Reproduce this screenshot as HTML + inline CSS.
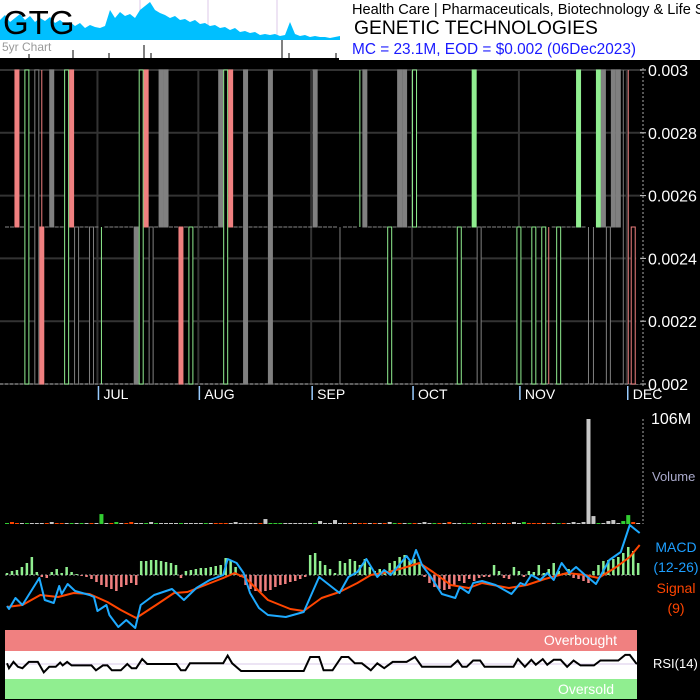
<!DOCTYPE html>
<html><head><meta charset="utf-8"><style>
html,body{margin:0;padding:0;background:#000;}
#wrap{position:relative;width:700px;height:700px;overflow:hidden;background:#000;font-family:"Liberation Sans",sans-serif;}
svg{position:absolute;left:0;top:0;}
</style></head><body>
<div id="wrap">
<svg id="c" width="700" height="700" xmlns="http://www.w3.org/2000/svg">
<rect x="0" y="0" width="700" height="60" fill="#fff"/>
<g id="fiveyr"></g>
<text x="3" y="34" font-size="33" fill="#000" font-family="Liberation Sans">GTG</text>
<text x="2" y="51" font-size="12" fill="#999" font-family="Liberation Sans">5yr Chart</text>
<text x="352" y="14" font-size="14.6" fill="#000" font-family="Liberation Sans">Health Care | Pharmaceuticals, Biotechnology &amp; Life Sciences</text>
<text x="354" y="34" font-size="19.3" fill="#000" font-family="Liberation Sans">GENETIC TECHNOLOGIES</text>
<text x="352" y="54" font-size="15.4" fill="#1a1aff" font-family="Liberation Sans">MC = 23.1M, EOD = $0.002 (06Dec2023)</text>
<g id="price"></g>
<g id="vol"></g>
<g id="macd"></g>
<g id="rsi"></g>
</svg>
</div>
<script>
// ---- data ----
const fiveYrVals = [20,25,18,22,26,20,24,18,22,19,23,17,20,16,18,14,17,12,15,13,12,14,30,22,28,24,26,22,30,34,38,30,27,25,22,24,20,21,18,20,16,17,14,15,12,13,10,12,8,9,7,8,5,6,5,6,4,5,18,6,4,5,3,4,3,3,2,3,4];
const priceTicks = [0.003,0.0028,0.0026,0.0024,0.0022,0.002];
const priceTickLabels = ["0.003","0.0028","0.0026","0.0024","0.0022","0.002"];
const monthLabels = ["JUL","AUG","SEP","OCT","NOV","DEC"];
const monthStartDays = [18.2,38.5,61.2,81.5,103,124.7];
const nDays = 128;
const candleDays = [2,4,6,7,9,12,13,14,17,19,26,27,28,29,31,32,35,37,43,44,45,48,53,62,67,71,72,77,79,80,82,91,94,95,103,106,108,109,111,115,117,118,119,120,121,122,123,124,125,126,127];
const opens  = [.003,.002,.002,.0025,.003,.002,.003,.002,.002,.0025,.0025,.002,.003,.002,.003,.003,.0025,.002,.003,.002,.003,.003,.003,.003,.0025,.0025,.003,.002,.003,.003,.0025,.002,.003,.002,.002,.002,.002,.0025,.002,.003,.0025,.0025,.003,.003,.002,.003,.003,.0025,.0025,.002,.002];
const closes = [.0025,.003,.003,.002,.0025,.003,.0025,.0025,.0025,.0025,.002,.003,.0025,.0025,.0025,.0025,.002,.0025,.0025,.003,.0025,.002,.002,.0025,.0025,.0025,.0025,.0025,.0025,.0025,.003,.0025,.0025,.0025,.0025,.0025,.0025,.0025,.0025,.0025,.0025,.0025,.0025,.0025,.0025,.0025,.0025,.0025,.0025,.0025,.0025];
const highs  = [.003,.003,.003,.003,.003,.003,.003,.0025,.0025,.0025,.0025,.003,.003,.0025,.003,.003,.0025,.0025,.003,.003,.003,.003,.003,.003,.0025,.003,.003,.0025,.003,.003,.003,.0025,.003,.0025,.0025,.0025,.0025,.0025,.0025,.003,.0025,.0025,.003,.003,.0025,.003,.003,.003,.003,.0025,.0025];
const lows   = [.0025,.002,.002,.002,.0025,.002,.0025,.002,.002,.002,.002,.002,.0025,.002,.0025,.0025,.002,.002,.0025,.002,.0025,.002,.002,.0025,.002,.0025,.0025,.002,.0025,.0025,.0025,.002,.0025,.002,.002,.002,.002,.002,.002,.0025,.002,.002,.0025,.0025,.002,.0025,.0025,.002,.002,.002,.002];
const candleKinds = "rgnrngrnngngrnnnrgngrnnnngngnngggngggrggnngnnnnnrr";
const volumes = [1,2,1,0.6,1,1,1,1,1,2,1,1,1,1,0,1,
 1,1,1,10,1,1,2,1,1,2,1,1,1,2,0,0,
 1,0,0,1,1,0,0,0,1,1,1,1,1,1,2,0,
 0,0,0,1,5,1,1,1,0,0,0,0,0,0,1,3,
 0,0,4,1,1,1,1,1,0,1,1,0,1,2,1,0,
 1,1,1,1,2,1,1,1,1,2,0,1,0,1,1,1,
 1,0,1,1,1,1,2,1,2,1,1,1,1,1,0,1,
 1,1,2,1,2,106,8,1,1,3,4,1,3,9,2,1];
const volColors = "grrwgwwwrwrrwgwg"+"wrwgwrgwrrwwgwgw"+"wwwgwwwwgwrrrwww"+"wwwrwgggwwwwwwgw"+"wwwwwrwrrwrwrwgr"+"wgrwwwgrwrwwggrw"+"grwrwrwwgrrrwrwg"+"rwwwwwwgwwwwggrw";
const macdDays = [0,0.4,1.7,3.1,6.5,7.6,9.4,10.5,11,12.2,13.7,16.6,17.5,18.2,20,20.6,22.4,24,25.8,26.9,29.6,33.2,35.6,38.1,40.8,43.5,44.4,46.2,47.6,48.9,50.7,52.5,56.1,59.7,62.8,66.9,68.7,70.5,72.3,74.5,75.9,77.2,80.4,81.4,82.3,83.5,85.3,87.5,90.2,91.1,92.9,93.8,95.6,98.3,101.5,103.3,104.2,105.5,107.3,108.7,110,111.6,113.1,114.5,116.3,118.5,121.2,123.5,125.3,127.3];
const macdVals = [-31,-34,-23,-30,-3,-25,-28,-11,-19,-9,-16,-20,-22,-36,-30,-40,-52,-45,-53,-30,-20,-14,-25,-13,-5,0,16,12,2,-18,-33,-40,-42,-37,-2,-18,-2,3,16,-2,5,0,19,12,25,10,-2,-19,-23,-12,-18,-8,-6,-10,-19,-8,-10,0,-5,2,-5,12,2,8,0,-9,15,23,50,42];
const signalDays = [0,3.1,6.7,10.3,13.4,16.6,20.2,22.9,26,30,33.6,36.3,39.9,43.5,45.8,48,52.5,57,59.7,63.3,66.9,70.5,73.2,76.8,80.4,83,85.7,89.3,92.9,95.6,101,104.6,108.2,112.7,116.3,119,122.6,125.3,127.3];
const signalVals = [-32,-30,-20,-22,-18,-19,-27,-35,-43,-30,-18,-17,-10,-3,2,-3,-25,-34,-36,-23,-17,-8,0,3,8,12,3,-10,-13,-8,-13,-10,-4,2,0,-3,8,18,30];
const histVals = [2,4,5,8,12,18,3,-2,-3,3,6,2,8,3,
 1,-1,-2,-4,-7,-10,-12,-14,-16,-12,-10,-8,-10,
 14,14,15,15,14,13,12,10,-3,4,5,6,7,7,8,9,10,17,14,8,
 -2,-10,-14,-16,-17,-16,-15,-12,-10,-9,-7,-6,-4,-2,
 20,22,14,10,6,2,14,12,16,14,10,16,8,4,6,4,12,14,18,20,14,16,12,
 -2,-8,-12,-14,-15,-14,-10,-6,-8,-4,-6,-3,-2,-2,
 10,4,-3,-4,8,4,-2,4,3,10,2,6,12,4,2,6,-3,-4,-6,-8,4,10,14,15,16,18,22,28,24,12];
const rsiDays = [0,0.4,1.3,2.2,3.1,4.4,6.2,7.4,8.5,9.8,10.7,11.2,12.1,13,17,17.9,19.3,20.2,21.1,22.9,24.2,25.1,26,27.2,28.2,34.1,35,35.9,36.8,43.5,44.4,45.3,47.1,59.7,61,62.8,63.7,65.5,67.3,68.7,70,71.4,73.2,74.5,75.9,77.6,80.4,82.1,83.5,89.3,90.7,91.6,92.5,93.8,95.2,96.1,101.9,102.8,104.2,105.5,106.4,107.8,108.7,110,111.4,112.7,114,115.4,118.1,119.4,123,124.4,125.3,126.6,127.3];
const rsiVals = [51,44,53,46,44,53,53,38,46,46,52,48,53,48,48,41,48,48,41,41,50,44,44,57,50,50,41,41,51,51,62,51,40,40,60,60,41,41,60,60,51,51,41,51,44,53,53,60,46,46,55,46,46,55,55,46,46,57,46,56,49,57,49,56,56,46,55,48,48,55,55,63,63,51,50];

// ---- scales ----
const xd = d => 7 + d*4.97;
const yp = p => 70 + (0.003-p)/0.001*314;
const yv = v => 524 - v/106*105;
const ym = v => 575 - v;
const yr = r => 664 - (r-50)*0.7;
const NS = "http://www.w3.org/2000/svg";
function mk(parent, tag, attrs, text){
  const e = document.createElementNS(NS, tag);
  for (const k in attrs) e.setAttribute(k, attrs[k]);
  if (text !== undefined) e.textContent = text;
  parent.appendChild(e);
  return e;
}
const colorOf = {g:"#90ee90", r:"#f08080", n:"#808080", w:"#c8c8c8"};

// ---- 5yr mini chart ----
const fy = document.getElementById('fiveyr');
[140,208,277].forEach(x=>{
  const l = mk(fy,'line',{x1:x,y1:0,x2:x,y2:40,stroke:'#ddc8e8','stroke-width':1});
  
  
});
let fp = "M0,40";
fiveYrVals.forEach((v,i)=>{ fp += " L"+(i*5)+","+(40-v); });
fp += " L340,40 Z";
const fa = mk(fy,'path',{d:fp,fill:'#00bfff'});


const fb = mk(fy,'rect',{x:0,y:58,width:339,height:2,fill:'#000'});


[[29,54],[73,50],[109,53],[144,45],[151,53],[282,40],[289,53],[336,53]].forEach(s=>{
  const l = mk(fy,'line',{x1:s[0],y1:s[1],x2:s[0],y2:58,stroke:'#000','stroke-width':1});
  
  
});

// ---- price panel ----
const pg = document.getElementById('price');
priceTicks.forEach((p,i)=>{
  const gl = mk(pg,'line',{x1:0,y1:yp(p),x2:642,y2:yp(p),stroke:'#333',"stroke-width":2});
  
  
  const tk = mk(pg,'line',{x1:640,y1:yp(p),x2:646,y2:yp(p),stroke:'#ccc'});
  
  
  const t = mk(pg,'text',{x:648,y:yp(p)+6,fill:'#fff','font-size':16,'font-family':'Liberation Sans'},priceTickLabels[i]);
  
  
});
monthStartDays.forEach((d,i)=>{
  const gl = mk(pg,'line',{x1:xd(d),y1:70,x2:xd(d),y2:384,stroke:'#333',"stroke-width":2});
  
  
  const bar = mk(pg,'line',{x1:xd(d)+1,y1:386,x2:xd(d)+1,y2:400,stroke:'#9cf','stroke-width':1.5});
  
  
  const t = mk(pg,'text',{x:xd(d)+6,y:399,fill:'#fff','font-size':14,'font-family':'Liberation Sans'},monthLabels[i]);
  
  
});
const pax = mk(pg,'line',{x1:643,y1:68,x2:643,y2:386,stroke:'#aaa','stroke-dasharray':'2,2'});


const pbase = mk(pg,'line',{x1:0,y1:384,x2:642,y2:384,stroke:'#888','stroke-dasharray':'3,2'});


for (let d=0; d<nDays; d++){
  if (candleDays.indexOf(d) >= 0) continue;
  const fl = mk(pg,'line',{x1:xd(d)-2,y1:yp(0.0025),x2:xd(d)+2,y2:yp(0.0025),stroke:'#888','stroke-width':1});
  
  
}
candleDays.forEach((d,i)=>{
  const col = colorOf[candleKinds[i]];
  const x = xd(d);
  const wk = mk(pg,'line',{x1:x,y1:yp(highs[i]),x2:x,y2:yp(lows[i]),stroke:col,'stroke-width':1});
  
  
  const top = yp(Math.max(opens[i],closes[i])), bot = yp(Math.min(opens[i],closes[i]));
  if (bot - top > 0.5){
    const hollow = closes[i] > opens[i];
    const r = mk(pg,'rect',{x:x-2,y:top,width:4,height:bot-top,fill:hollow?'#000':col,stroke:col,'stroke-width':1});
    
    
  }
});

// ---- volume panel ----
const vg = document.getElementById('vol');
const vax = mk(vg,'line',{x1:643,y1:419,x2:643,y2:524,stroke:'#aaa','stroke-dasharray':'2,2'});


const vt = mk(vg,'text',{x:651,y:424,fill:'#fff','font-size':16,'font-family':'Liberation Sans'},'106M');


const vl = mk(vg,'text',{x:652,y:481,fill:'#aac','font-size':13,'font-family':'Liberation Sans'},'Volume');


const vcol = {g:'#32cd32', r:'#ff4500', w:'#c8c8c8'};
volumes.forEach((v,d)=>{
  const h = Math.max(1, 524 - yv(v));
  const b = mk(vg,'rect',{x:xd(d)-2,y:524-h,width:4,height:h,fill:vcol[volColors[d]]});
  
  
});

// ---- MACD panel ----
const mg = document.getElementById('macd');
const zl = mk(mg,'line',{x1:5,y1:ym(0),x2:637,y2:ym(0),stroke:'#999','stroke-dasharray':'2,2'});


histVals.forEach((v,d)=>{
  const b = mk(mg,'rect',{x:xd(d)-1.25,y:Math.min(ym(0),ym(v)),width:2.5,height:Math.abs(v),fill:v>=0?'#90ee90':'#f08080'});
  
  
});
const sp = signalDays.map((d,i)=>xd(d)+","+ym(signalVals[i])).join(" ");
const sl = mk(mg,'polyline',{points:sp,fill:'none',stroke:'#ff4500','stroke-width':2,'stroke-linejoin':'round'});


const mp = macdDays.map((d,i)=>xd(d)+","+ym(macdVals[i])).join(" ");
const ml = mk(mg,'polyline',{points:mp,fill:'none',stroke:'#1eaaff','stroke-width':2,'stroke-linejoin':'round'});


[["MACD",552,'#1e9fff','macd-legend-label'],["(12-26)",572,'#1e9fff','macd-period-label'],["Signal",593,'#ff4500','signal-legend-label'],["(9)",613,'#ff4500','signal-period-label']].forEach(a=>{
  const t = mk(mg,'text',{x:676,y:a[1],fill:a[2],'font-size':14,'font-family':'Liberation Sans','text-anchor':'middle'},a[0]);
  
  
});

// ---- RSI panel ----
const rg = document.getElementById('rsi');
const ob = mk(rg,'rect',{x:5,y:630,width:632,height:21,fill:'#f08080'});


const mid = mk(rg,'rect',{x:5,y:651,width:632,height:28,fill:'#fff'});


const os = mk(rg,'rect',{x:5,y:679,width:632,height:20,fill:'#90ee90'});


const obt = mk(rg,'text',{x:617,y:645,fill:'#fff','font-size':14,'font-family':'Liberation Sans','text-anchor':'end'},'Overbought');


const ost = mk(rg,'text',{x:614,y:694,fill:'#fff','font-size':14,'font-family':'Liberation Sans','text-anchor':'end'},'Oversold');


const rc = mk(rg,'line',{x1:5,y1:yr(50),x2:637,y2:yr(50),stroke:'#d8c8e8'});


const rp = rsiDays.map((d,i)=>xd(d)+","+yr(rsiVals[i])).join(" ");
const rl = mk(rg,'polyline',{points:rp,fill:'none',stroke:'#000','stroke-width':2});


const rt = mk(rg,'text',{x:653,y:668,fill:'#fff','font-size':13,'font-family':'Liberation Sans'},'RSI(14)');


</script>
</body></html>
